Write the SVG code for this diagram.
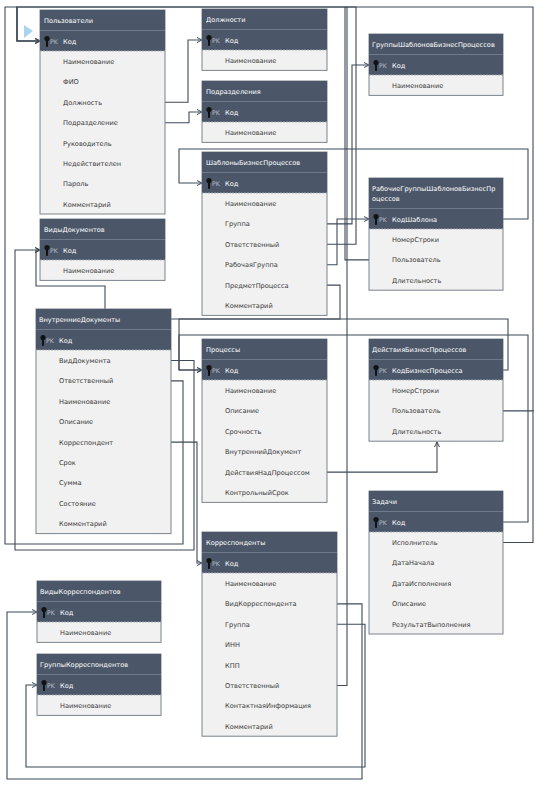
<svg xmlns="http://www.w3.org/2000/svg" width="541" height="787" viewBox="0 0 541 787">
<defs>
<style>
.bd{fill:#f1f1f1;stroke:#7b838e;stroke-width:1}
.hd{fill:#4b5769}
.sep{stroke:#6f7b8b;stroke-width:1}
.dash{stroke:#a4acb6;stroke-width:0.8;stroke-dasharray:2,1}
.ht{font-family:"DejaVu Sans",Verdana,sans-serif;font-size:6.6px;fill:#ffffff}
.ft{font-family:"DejaVu Sans",Verdana,sans-serif;font-size:6.6px;fill:#3a3a3a}
.pkl{font-family:"DejaVu Sans",Verdana,sans-serif;font-size:6.2px;fill:#b9bfc7}
.cn{fill:none;stroke:#3e4a58;stroke-width:1.1}
</style>
<g id="key" fill="#121212"><circle cx="0" cy="-2.4" r="2.6"/><rect x="-1" y="-1" width="2" height="6.8"/></g>
<marker id="ar" markerWidth="6" markerHeight="6" refX="5" refY="3" orient="auto" markerUnits="userSpaceOnUse"><path d="M0,0.5 L5,3 L0,5.5" fill="none" stroke="#3e4a58" stroke-width="1"/></marker>
</defs>
<rect width="541" height="787" fill="#ffffff"/>
<polygon points="24,25 33,31 24,38" fill="#a9d5ef"/>

<g id="connectors">
<path class="cn" marker-end="url(#ar)" d="M165,102.3 H188 V40 H202"/>
<path class="cn" marker-end="url(#ar)" d="M165,122.7 H189 V112 H202"/>
<path class="cn" marker-end="url(#ar)" d="M327,223.9 H352 V65 H369"/>
<path class="cn" marker-end="url(#ar)" d="M327,244.3 H356 V7 H17 V41 H40"/>
<path class="cn" marker-end="url(#ar)" d="M327,264.7 H337 V219 H369"/>
<path class="cn" marker-end="url(#ar)" d="M327,285.1 H340 V319 H179 V370 H202"/>
<path class="cn" d="M503,370 H508 V319 H171"/>
<path class="cn" marker-end="url(#ar)" d="M503,522 H528 V335 H179 V370 H202"/>
<path class="cn" marker-end="url(#ar)" d="M503,219 H528 V149 H179 V183 H202"/>
<path class="cn" d="M369,259.9 H345 V7"/>
<path class="cn" marker-end="url(#ar)" d="M503,410.9 H533 V7 H17 V41 H40"/>
<path class="cn" d="M503,542.5 H533 V410"/>
<path class="cn" marker-end="url(#ar)" d="M327,472.1 H437 V442"/>
<path class="cn" marker-end="url(#ar)" d="M171,360.5 H194 V550 H15 V250 H40"/>
<path class="cn" marker-end="url(#ar)" d="M171,380.9 H183 V544 H5 V7 H17 V41 H40"/>
<path class="cn" marker-end="url(#ar)" d="M171,442.1 H197 V563 H202"/>
<path class="cn" marker-end="url(#ar)" d="M105,309 V286 H36 V250 H40"/>
<path class="cn" marker-end="url(#ar)" d="M337,603.9 H362 V779 H7 V612 H37"/>
<path class="cn" marker-end="url(#ar)" d="M337,624.3 H365 V767 H26 V685 H37"/>
<path class="cn" d="M337,685.5 H347 V7"/>
</g>

<g id="n-polzovateli" transform="translate(40,10)">
<rect class="bd" width="125" height="204"/>
<rect class="hd" width="125" height="20.5"/>
<rect class="hd" y="20.5" width="125" height="20.5"/>
<line class="sep" x1="0" y1="20.5" x2="125" y2="20.5"/>
<line class="dash" x1="0" y1="41" x2="125" y2="41"/>
<text class="ht" x="4" y="12.5">Пользователи</text>
<use href="#key" x="7" y="31"/><text class="pkl" x="10" y="33.5">PK</text>
<text class="ht" x="23" y="33.5">Код</text>
<text class="ft" x="23" y="54">Наименование</text>
<text class="ft" x="23" y="74.4">ФИО</text>
<text class="ft" x="23" y="94.8">Должность</text>
<text class="ft" x="23" y="115.2">Подразделение</text>
<text class="ft" x="23" y="135.6">Руководитель</text>
<text class="ft" x="23" y="156">Недействителен</text>
<text class="ft" x="23" y="176.4">Пароль</text>
<text class="ft" x="23" y="196.8">Комментарий</text>
</g>

<g id="n-dolzhnosti" transform="translate(202,9)">
<rect class="bd" width="125" height="61.4"/>
<rect class="hd" width="125" height="20.5"/>
<rect class="hd" y="20.5" width="125" height="20.5"/>
<line class="sep" x1="0" y1="20.5" x2="125" y2="20.5"/>
<line class="dash" x1="0" y1="41" x2="125" y2="41"/>
<text class="ht" x="4" y="12.5">Должности</text>
<use href="#key" x="7" y="31"/><text class="pkl" x="10" y="33.5">PK</text>
<text class="ht" x="23" y="33.5">Код</text>
<text class="ft" x="23" y="54">Наименование</text>
</g>

<g id="n-podrazdeleniya" transform="translate(202,81)">
<rect class="bd" width="125" height="61.4"/>
<rect class="hd" width="125" height="20.5"/>
<rect class="hd" y="20.5" width="125" height="20.5"/>
<line class="sep" x1="0" y1="20.5" x2="125" y2="20.5"/>
<line class="dash" x1="0" y1="41" x2="125" y2="41"/>
<text class="ht" x="4" y="12.5">Подразделения</text>
<use href="#key" x="7" y="31"/><text class="pkl" x="10" y="33.5">PK</text>
<text class="ht" x="23" y="33.5">Код</text>
<text class="ft" x="23" y="54">Наименование</text>
</g>

<g id="n-gruppy-shablonov" transform="translate(369,34)">
<rect class="bd" width="134" height="61.4"/>
<rect class="hd" width="134" height="20.5"/>
<rect class="hd" y="20.5" width="134" height="20.5"/>
<line class="sep" x1="0" y1="20.5" x2="134" y2="20.5"/>
<line class="dash" x1="0" y1="41" x2="134" y2="41"/>
<text class="ht" x="3" y="12.5">ГруппыШаблоновБизнесПроцессов</text>
<use href="#key" x="7" y="31"/><text class="pkl" x="10" y="33.5">PK</text>
<text class="ht" x="23" y="33.5">Код</text>
<text class="ft" x="23" y="54">Наименование</text>
</g>

<g id="n-rabochie-gruppy" transform="translate(369,178)">
<rect class="bd" width="134" height="112.2"/>
<rect class="hd" width="134" height="30.5"/>
<rect class="hd" y="30.5" width="134" height="20.5"/>
<line class="sep" x1="0" y1="30.5" x2="134" y2="30.5"/>
<line class="dash" x1="0" y1="51" x2="134" y2="51"/>
<text class="ht" x="3" y="12.5">РабочиеГруппыШаблоновБизнесПр</text>
<text class="ht" x="3" y="22.5">оцессов</text>
<use href="#key" x="7" y="41"/><text class="pkl" x="10" y="43.5">PK</text>
<text class="ht" x="23" y="43.5">КодШаблона</text>
<text class="ft" x="23" y="64">НомерСтроки</text>
<text class="ft" x="23" y="84.4">Пользователь</text>
<text class="ft" x="23" y="104.8">Длительность</text>
</g>

<g id="n-shablony" transform="translate(202,152)">
<rect class="bd" width="125" height="163.4"/>
<rect class="hd" width="125" height="20.5"/>
<rect class="hd" y="20.5" width="125" height="20.5"/>
<line class="sep" x1="0" y1="20.5" x2="125" y2="20.5"/>
<line class="dash" x1="0" y1="41" x2="125" y2="41"/>
<text class="ht" x="4" y="12.5">ШаблоныБизнесПроцессов</text>
<use href="#key" x="7" y="31"/><text class="pkl" x="10" y="33.5">PK</text>
<text class="ht" x="23" y="33.5">Код</text>
<text class="ft" x="23" y="54">Наименование</text>
<text class="ft" x="23" y="74.4">Группа</text>
<text class="ft" x="23" y="94.8">Ответственный</text>
<text class="ft" x="23" y="115.2">РабочаяГруппа</text>
<text class="ft" x="23" y="135.6">ПредметПроцесса</text>
<text class="ft" x="23" y="156">Комментарий</text>
</g>

<g id="n-vidy-dokumentov" transform="translate(40,219)">
<rect class="bd" width="125" height="61.4"/>
<rect class="hd" width="125" height="20.5"/>
<rect class="hd" y="20.5" width="125" height="20.5"/>
<line class="sep" x1="0" y1="20.5" x2="125" y2="20.5"/>
<line class="dash" x1="0" y1="41" x2="125" y2="41"/>
<text class="ht" x="4" y="12.5">ВидыДокументов</text>
<use href="#key" x="7" y="31"/><text class="pkl" x="10" y="33.5">PK</text>
<text class="ht" x="23" y="33.5">Код</text>
<text class="ft" x="23" y="54">Наименование</text>
</g>

<g id="n-vnutrennie-dokumenty" transform="translate(36,309)">
<rect class="bd" width="135" height="224.6"/>
<rect class="hd" width="135" height="20.5"/>
<rect class="hd" y="20.5" width="135" height="20.5"/>
<line class="sep" x1="0" y1="20.5" x2="135" y2="20.5"/>
<line class="dash" x1="0" y1="41" x2="135" y2="41"/>
<text class="ht" x="3" y="12.5">ВнутренниеДокументы</text>
<use href="#key" x="7" y="31"/><text class="pkl" x="10" y="33.5">PK</text>
<text class="ht" x="23" y="33.5">Код</text>
<text class="ft" x="23" y="54">ВидДокумента</text>
<text class="ft" x="23" y="74.4">Ответственный</text>
<text class="ft" x="23" y="94.8">Наименование</text>
<text class="ft" x="23" y="115.2">Описание</text>
<text class="ft" x="23" y="135.6">Корреспондент</text>
<text class="ft" x="23" y="156">Срок</text>
<text class="ft" x="23" y="176.4">Сумма</text>
<text class="ft" x="23" y="196.8">Состояние</text>
<text class="ft" x="23" y="217.2">Комментарий</text>
</g>

<g id="n-processy" transform="translate(202,339)">
<rect class="bd" width="125" height="163.4"/>
<rect class="hd" width="125" height="20.5"/>
<rect class="hd" y="20.5" width="125" height="20.5"/>
<line class="sep" x1="0" y1="20.5" x2="125" y2="20.5"/>
<line class="dash" x1="0" y1="41" x2="125" y2="41"/>
<text class="ht" x="4" y="12.5">Процессы</text>
<use href="#key" x="7" y="31"/><text class="pkl" x="10" y="33.5">PK</text>
<text class="ht" x="23" y="33.5">Код</text>
<text class="ft" x="23" y="54">Наименование</text>
<text class="ft" x="23" y="74.4">Описание</text>
<text class="ft" x="23" y="94.8">Срочность</text>
<text class="ft" x="23" y="115.2">ВнутреннийДокумент</text>
<text class="ft" x="23" y="135.6">ДействияНадПроцессом</text>
<text class="ft" x="23" y="156">КонтрольныйСрок</text>
</g>

<g id="n-deystviya" transform="translate(369,339)">
<rect class="bd" width="134" height="102.2"/>
<rect class="hd" width="134" height="20.5"/>
<rect class="hd" y="20.5" width="134" height="20.5"/>
<line class="sep" x1="0" y1="20.5" x2="134" y2="20.5"/>
<line class="dash" x1="0" y1="41" x2="134" y2="41"/>
<text class="ht" x="3" y="12.5">ДействияБизнесПроцессов</text>
<use href="#key" x="7" y="31"/><text class="pkl" x="10" y="33.5">PK</text>
<text class="ht" x="23" y="33.5">КодБизнесПроцесса</text>
<text class="ft" x="23" y="54">НомерСтроки</text>
<text class="ft" x="23" y="74.4">Пользователь</text>
<text class="ft" x="23" y="94.8">Длительность</text>
</g>

<g id="n-zadachi" transform="translate(369,491)">
<rect class="bd" width="134" height="143"/>
<rect class="hd" width="134" height="20.5"/>
<rect class="hd" y="20.5" width="134" height="20.5"/>
<line class="sep" x1="0" y1="20.5" x2="134" y2="20.5"/>
<line class="dash" x1="0" y1="41" x2="134" y2="41"/>
<text class="ht" x="3" y="12.5">Задачи</text>
<use href="#key" x="7" y="31"/><text class="pkl" x="10" y="33.5">PK</text>
<text class="ht" x="23" y="33.5">Код</text>
<text class="ft" x="23" y="54">Исполнитель</text>
<text class="ft" x="23" y="74.4">ДатаНачала</text>
<text class="ft" x="23" y="94.8">ДатаИсполнения</text>
<text class="ft" x="23" y="115.2">Описание</text>
<text class="ft" x="23" y="135.6">РезультатВыполнения</text>
</g>

<g id="n-vidy-korrespondentov" transform="translate(37,581)">
<rect class="bd" width="124" height="61.4"/>
<rect class="hd" width="124" height="20.5"/>
<rect class="hd" y="20.5" width="124" height="20.5"/>
<line class="sep" x1="0" y1="20.5" x2="124" y2="20.5"/>
<line class="dash" x1="0" y1="41" x2="124" y2="41"/>
<text class="ht" x="3" y="12.5">ВидыКорреспондентов</text>
<use href="#key" x="7" y="31"/><text class="pkl" x="10" y="33.5">PK</text>
<text class="ht" x="23" y="33.5">Код</text>
<text class="ft" x="23" y="54">Наименование</text>
</g>

<g id="n-gruppy-korrespondentov" transform="translate(37,654)">
<rect class="bd" width="124" height="61.4"/>
<rect class="hd" width="124" height="20.5"/>
<rect class="hd" y="20.5" width="124" height="20.5"/>
<line class="sep" x1="0" y1="20.5" x2="124" y2="20.5"/>
<line class="dash" x1="0" y1="41" x2="124" y2="41"/>
<text class="ht" x="3" y="12.5">ГруппыКорреспондентов</text>
<use href="#key" x="7" y="31"/><text class="pkl" x="10" y="33.5">PK</text>
<text class="ht" x="23" y="33.5">Код</text>
<text class="ft" x="23" y="54">Наименование</text>
</g>

<g id="n-korrespondenty" transform="translate(202,532)">
<rect class="bd" width="135" height="204.2"/>
<rect class="hd" width="135" height="20.5"/>
<rect class="hd" y="20.5" width="135" height="20.5"/>
<line class="sep" x1="0" y1="20.5" x2="135" y2="20.5"/>
<line class="dash" x1="0" y1="41" x2="135" y2="41"/>
<text class="ht" x="4" y="12.5">Корреспонденты</text>
<use href="#key" x="7" y="31"/><text class="pkl" x="10" y="33.5">PK</text>
<text class="ht" x="23" y="33.5">Код</text>
<text class="ft" x="23" y="54">Наименование</text>
<text class="ft" x="23" y="74.4">ВидКорреспондента</text>
<text class="ft" x="23" y="94.8">Группа</text>
<text class="ft" x="23" y="115.2">ИНН</text>
<text class="ft" x="23" y="135.6">КПП</text>
<text class="ft" x="23" y="156">Ответственный</text>
<text class="ft" x="23" y="176.4">КонтактнаяИнформация</text>
<text class="ft" x="23" y="196.8">Комментарий</text>
</g>
</svg>
